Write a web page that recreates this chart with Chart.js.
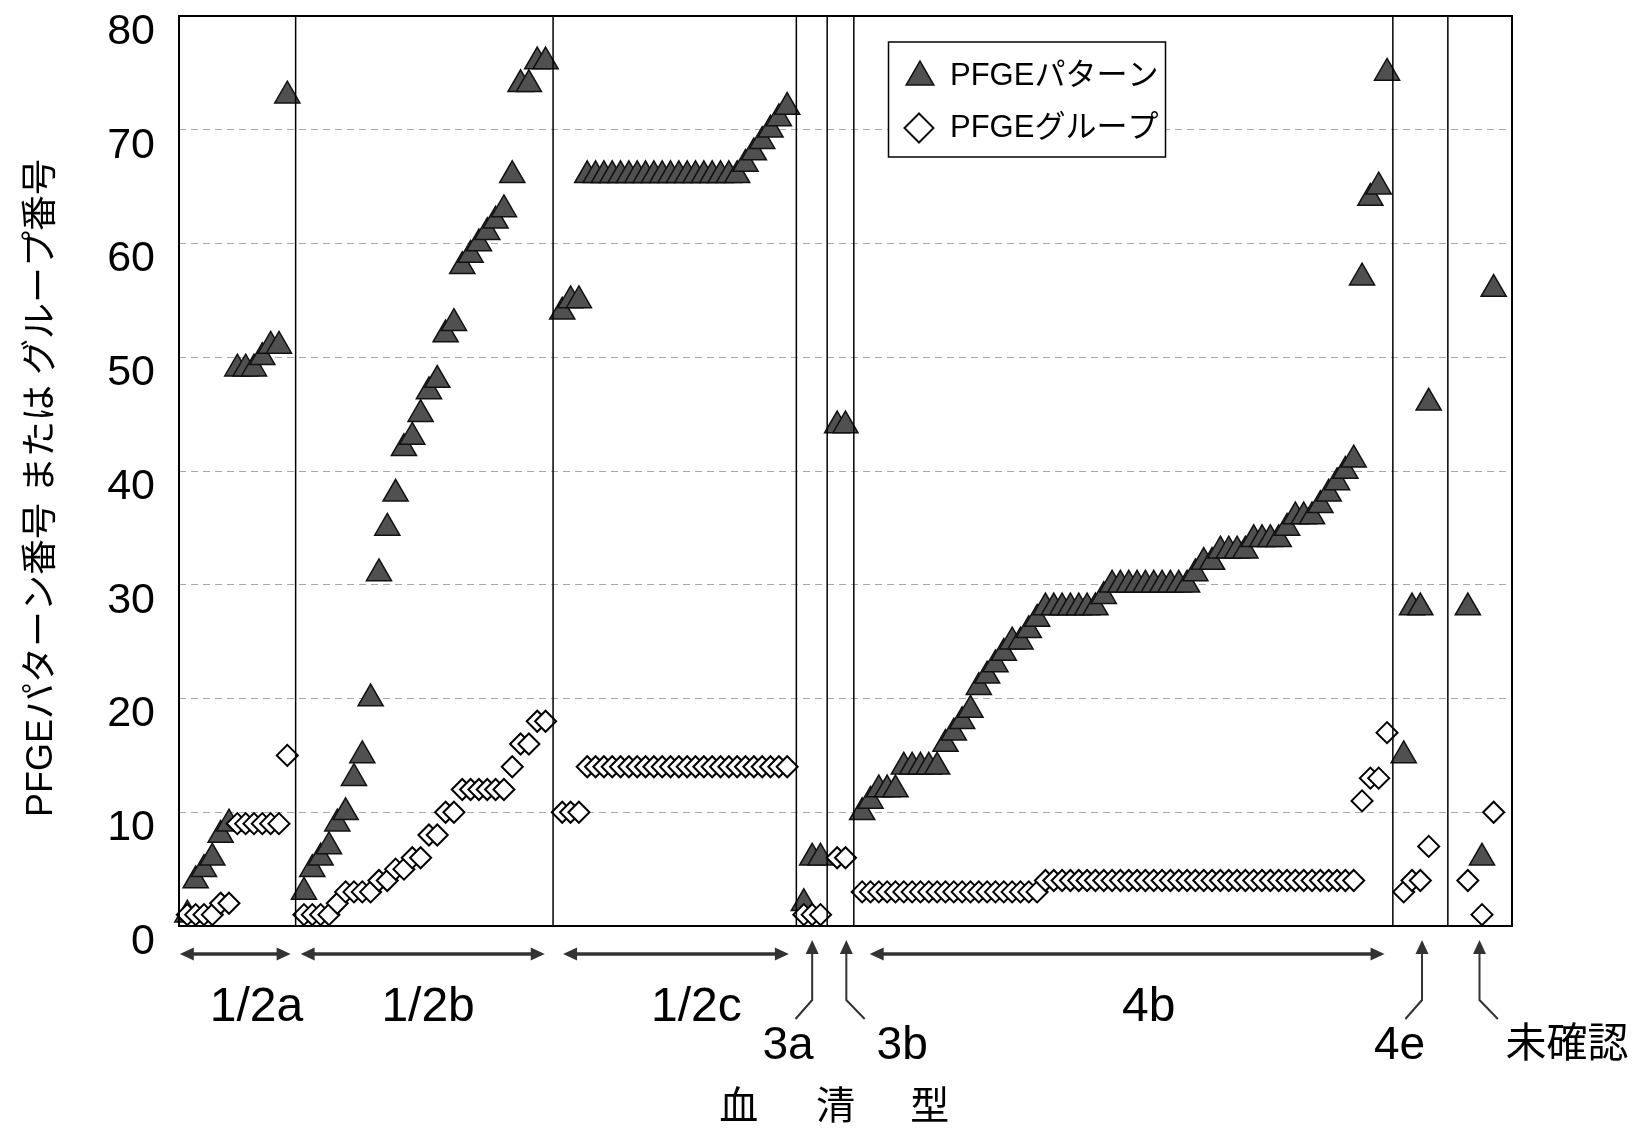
<!DOCTYPE html>
<html lang="ja">
<head>
<meta charset="utf-8">
<title>PFGEパターン番号 / グループ番号</title>
<script src="https://cdn.jsdelivr.net/npm/chart.js@4.4.1/dist/chart.umd.min.js"></script>
<style>
  html, body { margin: 0; padding: 0; background: #fff; }
  #wrap { width: 1643px; height: 1129px; }
</style>
</head>
<body>
<div id="wrap"><canvas id="chart" width="1643" height="1129"></canvas></div>
<script>
// serotypes, left to right
const serotypes = ["1/2a", "1/2b", "1/2c", "3a", "3b", "4b", "4e", "未確認"];

// isolate positions on the x axis, per serotype
const x12a = [1, 2, 3, 4, 5, 6, 7, 8, 9, 10, 11, 12, 13];
const x12b = [15, 16, 17, 18, 19, 20, 21, 22, 23, 24, 25, 26, 27, 28, 29, 30,
  31, 32, 33, 34, 35, 36, 37, 38, 39, 40, 41, 42, 43, 44];
const x12c = [46, 47, 48, 49, 50, 51, 52, 53, 54, 55, 56, 57, 58, 59, 60, 61,
  62, 63, 64, 65, 66, 67, 68, 69, 70, 71, 72, 73];
const x3a = [75, 76, 77];
const x3b = [79, 80];
const x4b = [82, 83, 84, 85, 86, 87, 88, 89, 90, 91, 92, 93, 94, 95, 96, 97,
  98, 99, 100, 101, 102, 103, 104, 105, 106, 107, 108, 109, 110, 111, 112, 113,
  114, 115, 116, 117, 118, 119, 120, 121, 122, 123, 124, 125, 126, 127, 128, 129,
  130, 131, 132, 133, 134, 135, 136, 137, 138, 139, 140, 141, 142, 143, 144, 145];
const x4e = [147, 148, 149, 150];
const xUnk = [154.7, 156.4, 157.8];

// PFGE pattern numbers (triangles)
const pat12a = [1, 4, 5, 6, 8, 9, 49, 49, 49, 50, 51, 51, 73];
const pat12b = [3, 5, 6, 7, 9, 10, 13, 15, 20, 31, 35, 38, 42, 43, 45, 47,
  48, 52, 53, 58, 59, 60, 61, 62, 63, 66, 74, 74, 76, 76];
const pat12c = [54, 55, 55, 66, 66, 66, 66, 66, 66, 66, 66, 66, 66, 66, 66, 66,
  66, 66, 66, 66, 66, 66, 67, 68, 69, 70, 71, 72];
const pat3a = [2, 6, 6];
const pat3b = [44, 44];
const pat4b = [10, 11, 12, 12, 12, 14, 14, 14, 14, 14, 16, 17, 18, 19, 21, 22,
  23, 24, 25, 25, 26, 27, 28, 28, 28, 28, 28, 28, 28, 29, 30, 30,
  30, 30, 30, 30, 30, 30, 30, 30, 31, 32, 32, 33, 33, 33, 33, 34,
  34, 34, 34, 35, 36, 36, 36, 37, 38, 39, 40, 41, 57, 64, 65, 75];
const pat4e = [15, 28, 28, 46];
const patUnk = [28, 6, 56];

// PFGE group numbers (diamonds)
const grp12a = [1, 1, 1, 1, 2, 2, 9, 9, 9, 9, 9, 9, 15];
const grp12b = [1, 1, 1, 1, 2, 3, 3, 3, 3, 4, 4, 5, 5, 6, 6, 8,
  8, 10, 10, 12, 12, 12, 12, 12, 12, 14, 16, 16, 18, 18];
const grp12c = [10, 10, 10, 14, 14, 14, 14, 14, 14, 14, 14, 14, 14, 14, 14, 14,
  14, 14, 14, 14, 14, 14, 14, 14, 14, 14, 14, 14];
const grp3a = [1, 1, 1];
const grp3b = [6, 6];
const grp4b = [3, 3, 3, 3, 3, 3, 3, 3, 3, 3, 3, 3, 3, 3, 3, 3,
  3, 3, 3, 3, 3, 3, 4, 4, 4, 4, 4, 4, 4, 4, 4, 4,
  4, 4, 4, 4, 4, 4, 4, 4, 4, 4, 4, 4, 4, 4, 4, 4,
  4, 4, 4, 4, 4, 4, 4, 4, 4, 4, 4, 4, 11, 13, 13, 17];
const grp4e = [3, 4, 4, 7];
const grpUnk = [4, 1, 10];

// vertical lines between serotypes
const dividerX = [14, 44.9, 74.1, 77.8, 81, 145.7, 152.3];

const yTicks = [0, 10, 20, 30, 40, 50, 60, 70, 80];

const xLists = [x12a, x12b, x12c, x3a, x3b, x4b, x4e, xUnk];
const patLists = [pat12a, pat12b, pat12c, pat3a, pat3b, pat4b, pat4e, patUnk];
const grpLists = [grp12a, grp12b, grp12c, grp3a, grp3b, grp4b, grp4e, grpUnk];

const toPoints = (lists) =>
  xLists.flatMap((xs, s) => xs.map((x, k) => ({ x, y: lists[s][k] })));

// labels under the axis (x in axis units)
const spanArrows = [[0.1, 13.4], [14.6, 43.9], [46.1, 73.2], [82.9, 144.7]];
const spanLabels = [["1/2a", 9.3], ["1/2b", 29.9], ["1/2c", 62.1], ["4b", 116.4]];
const pointArrows = [[76.0, 74.0], [80.1, 82.3], [149.2, 147.2], [156.1, 158.3]];
const pointLabels = [["3a", 73.1], ["3b", 86.8], ["4e", 146.5], ["未確認", 166.6]];
const xTitle = [["血", 67.2], ["清", 78.8], ["型", 90.1]];
const yTitle = "PFGEパターン番号 または グループ番号";

const LATIN = '"Liberation Sans", Arial, sans-serif';
const MIXED = '"Liberation Sans", "Noto Sans CJK JP", sans-serif';
Chart.defaults.font.family = MIXED;
Chart.defaults.color = "#000";

const TRI_FILL = "#505050";

function arrowHead(ctx, x, y, dx, dy) {
  const len = 14, half = 6.5;
  ctx.beginPath();
  ctx.moveTo(x, y);
  ctx.lineTo(x - dx * len - dy * half, y - dy * len + dx * half);
  ctx.lineTo(x - dx * len + dy * half, y - dy * len - dx * half);
  ctx.closePath();
  ctx.fill();
}

const framePlugin = {
  id: "frame",
  afterDatasetsDraw(chart) {
    const { ctx, chartArea: a } = chart;
    ctx.save();
    ctx.strokeStyle = "#000";
    ctx.lineWidth = 2;
    ctx.strokeRect(a.left, a.top, a.right - a.left, a.bottom - a.top);
    ctx.restore();
  }
};

const legendPlugin = {
  id: "boxLegend",
  afterDraw(chart) {
    const { ctx } = chart;
    ctx.save();
    ctx.fillStyle = "#fff";
    ctx.fillRect(888.5, 42, 277, 115);
    ctx.strokeStyle = "#000";
    ctx.lineWidth = 1.5;
    ctx.strokeRect(888.5, 42, 277, 115);

    ctx.fillStyle = TRI_FILL;
    ctx.strokeStyle = "#111";
    Chart.helpers.drawPoint(ctx, { pointStyle: "triangle", radius: 16, borderWidth: 1.5, rotation: 0 }, 920, 77);
    ctx.fillStyle = "#fff";
    ctx.lineWidth = 2;
    Chart.helpers.drawPoint(ctx, { pointStyle: "rectRot", radius: 14.5, borderWidth: 2, rotation: 0 }, 919, 128);

    ctx.fillStyle = "#000";
    ctx.font = "31px " + MIXED;
    ctx.textAlign = "left";
    ctx.textBaseline = "middle";
    ctx.fillText("PFGEパターン", 950, 76);
    ctx.fillText("PFGEグループ", 950, 128);
    ctx.restore();
  }
};

const axisNotesPlugin = {
  id: "axisNotes",
  afterDraw(chart) {
    const { ctx, chartArea: a } = chart;
    const xs = chart.scales.x;
    const px = (v) => xs.getPixelForValue(v);
    const b = a.bottom;
    ctx.save();
    ctx.strokeStyle = "#333";
    ctx.fillStyle = "#333";
    ctx.lineWidth = 3.5;

    spanArrows.forEach(([from, to]) => {
      const y = b + 28, x0 = px(from), x1 = px(to);
      ctx.beginPath();
      ctx.moveTo(x0 + 8, y);
      ctx.lineTo(x1 - 8, y);
      ctx.stroke();
      arrowHead(ctx, x0, y, -1, 0);
      arrowHead(ctx, x1, y, 1, 0);
    });

    ctx.lineWidth = 2;
    pointArrows.forEach(([at, bend]) => {
      const x = px(at), xb = px(bend);
      ctx.beginPath();
      ctx.moveTo(x, b + 25);
      ctx.lineTo(x, b + 74);
      ctx.lineTo(xb, b + 93);
      ctx.stroke();
      arrowHead(ctx, x, b + 14, 0, -1);
    });

    ctx.fillStyle = "#000";
    ctx.textAlign = "center";
    ctx.textBaseline = "middle";
    ctx.font = "48px " + LATIN;
    spanLabels.forEach(([t, v]) => ctx.fillText(t, px(v), b + 82));
    pointLabels.forEach(([t, v]) => {
      ctx.font = (t.length > 2 ? "41px " : "46px ") + MIXED;
      ctx.fillText(t, px(v), b + 120);
    });
    ctx.font = "39px " + MIXED;
    xTitle.forEach(([t, v]) => ctx.fillText(t, px(v), b + 182));

    ctx.translate(42, 488);
    ctx.rotate(-Math.PI / 2);
    ctx.font = "36px " + MIXED;
    ctx.fillText(yTitle, 0, 0);
    ctx.restore();
  }
};

const dividerSets = dividerX.map((x) => ({
  type: "line",
  label: "divider",
  data: [{ x, y: 0 }, { x, y: 80 }],
  borderColor: "#000",
  borderWidth: 1.5,
  pointRadius: 0,
  showLine: true,
  fill: false,
  order: -1
}));

new Chart(document.getElementById("chart"), {
  type: "scatter",
  data: {
    datasets: [
      {
        label: "PFGEグループ",
        data: toPoints(grpLists),
        pointStyle: "rectRot",
        pointRadius: 10.5,
        backgroundColor: "#fff",
        borderColor: "#000",
        borderWidth: 2,
        clip: false,
        order: 0
      },
      {
        label: "PFGEパターン",
        data: toPoints(patLists),
        pointStyle: "triangle",
        pointRadius: 14.5,
        backgroundColor: TRI_FILL,
        borderColor: "#111",
        borderWidth: 1.5,
        clip: false,
        order: 1
      },
      ...dividerSets
    ]
  },
  options: {
    responsive: false,
    animation: false,
    events: [],
    layout: { padding: { top: 12.5, right: 131, left: 0, bottom: 0 } },
    plugins: {
      legend: { display: false },
      tooltip: { enabled: false },
      title: { display: false }
    },
    scales: {
      x: {
        type: "linear",
        min: 0,
        max: 160,
        ticks: { display: false },
        grid: { display: false },
        border: { display: false },
        afterFit(scale) {
          scale.height = 203;
          scale.paddingLeft = 0;
          scale.paddingRight = 0;
        }
      },
      y: {
        type: "linear",
        min: 0,
        max: 80,
        afterBuildTicks(scale) {
          scale.ticks = yTicks.map((value) => ({ value }));
        },
        ticks: {
          font: { family: LATIN, size: 43 },
          color: "#000",
          padding: 24,
          labelOffset: 16
        },
        grid: { color: "#a8a8a8", lineWidth: 1, drawTicks: false },
        border: { display: false, dash: [7, 5] },
        afterFit(scale) {
          scale.width = 179;
          scale.paddingTop = 0;
          scale.paddingBottom = 0;
        }
      }
    }
  },
  plugins: [framePlugin, legendPlugin, axisNotesPlugin]
});
</script>
</body>
</html>
